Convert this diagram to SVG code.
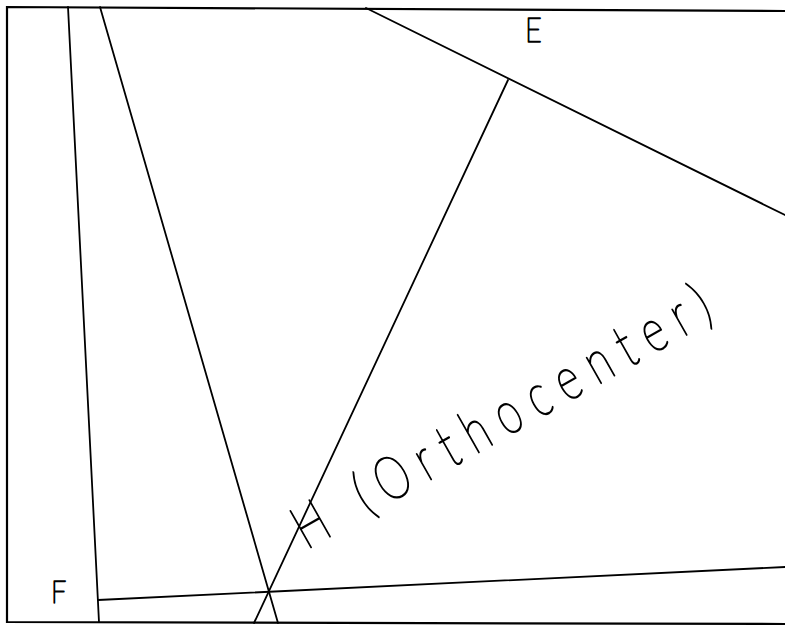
<svg xmlns="http://www.w3.org/2000/svg" width="785" height="626" viewBox="0 0 785 626">
<style>
.ln{stroke:#000;stroke-width:1.8;fill:none;stroke-linecap:round}
.fr{stroke:#000;stroke-width:2.2;fill:none}
.lbl{font-family:"Lato","Liberation Sans",sans-serif;font-weight:100;fill:#000;stroke:#000;stroke-width:1.5;stroke-linejoin:round;vector-effect:non-scaling-stroke}
</style>
<rect width="785" height="626" fill="#fff"/>
<g id="frame">
<path class="fr" d="M785,11 L7,7 L7,622 L785,624"/>
</g>
<g id="connectors">
<line class="ln" x1="68" y1="7" x2="99" y2="622"/>
<line class="ln" x1="100" y1="7" x2="278" y2="623"/>
<line class="ln" x1="366" y1="8" x2="785" y2="215"/>
<line class="ln" x1="508" y1="80" x2="254" y2="623"/>
<line class="ln" x1="98" y1="600" x2="785" y2="567"/>
</g>
<g id="node-E">
<text class="lbl" transform="translate(525,42) scale(0.85,1)" font-size="34">E</text>
</g>
<g id="node-F">
<text class="lbl" transform="translate(51,603) scale(0.85,1)" font-size="32">F</text>
</g>
<g id="node-H">
<text class="lbl" transform="translate(306.5,550) rotate(-29.5) scale(0.72,1)" font-size="60" textLength="653" lengthAdjust="spacing">H (Orthocenter)</text>
</g>
</svg>
